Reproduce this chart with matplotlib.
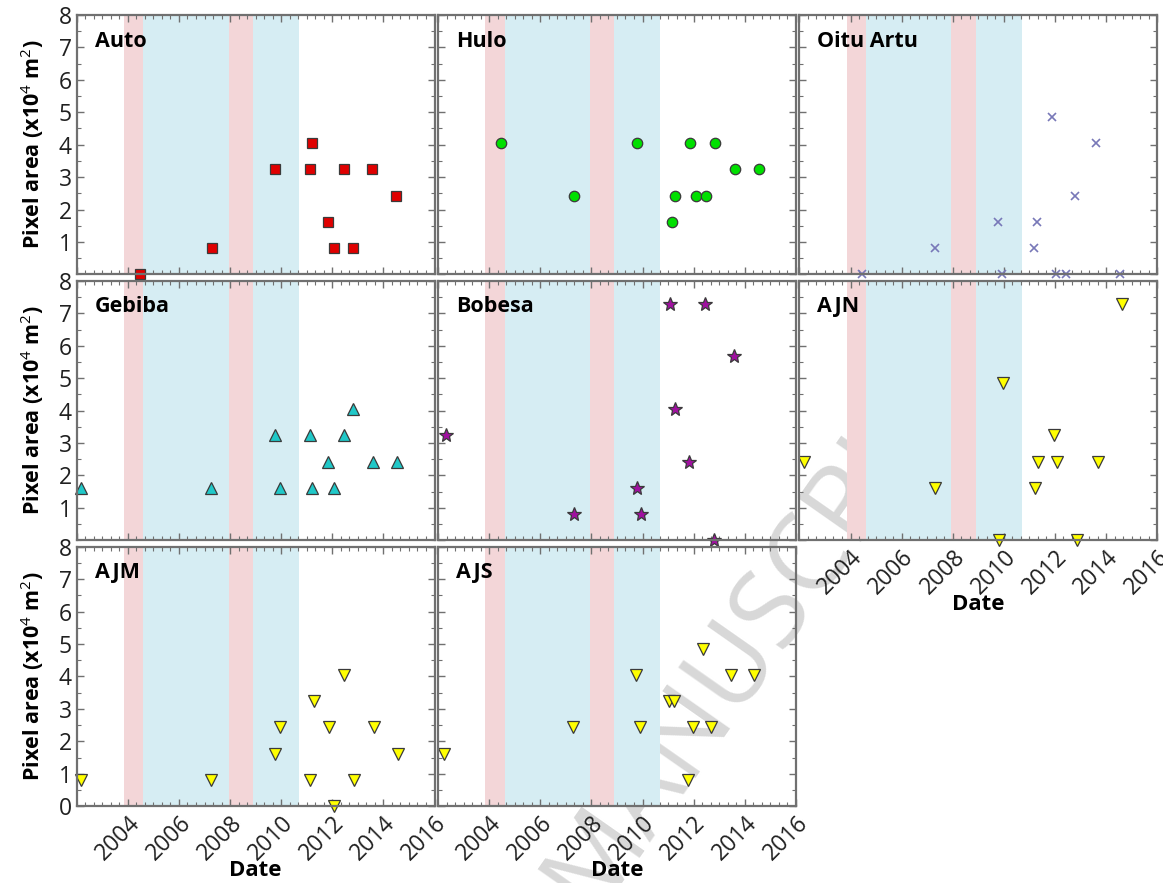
import matplotlib
matplotlib.use("Agg")
import matplotlib.pyplot as plt
from matplotlib.ticker import MultipleLocator

plt.rcParams["font.family"] = ["Open Sans", "DejaVu Sans"]
plt.rcParams["mathtext.fontset"] = "custom"
plt.rcParams["mathtext.rm"] = "Open Sans"
plt.rcParams["mathtext.bf"] = "Open Sans:bold"

# 数据 (年份, 面积 x10^4 m2)
auto_x = [2004.46, 2007.29, 2009.75, 2011.12, 2011.22, 2011.84, 2012.05, 2012.46, 2012.80, 2013.57, 2014.51]
auto_y = [0.00, 0.81, 3.24, 3.24, 4.05, 1.62, 0.81, 3.24, 0.81, 3.24, 2.43]

hulo_x = [2004.48, 2007.31, 2009.79, 2011.15, 2011.29, 2011.85, 2012.08, 2012.49, 2012.83, 2013.60, 2014.56]
hulo_y = [4.05, 2.43, 4.05, 1.62, 2.43, 4.05, 2.43, 2.43, 4.05, 3.24, 3.24]

oitu_x = [2004.46, 2007.32, 2009.79, 2009.94, 2011.17, 2011.28, 2011.87, 2012.05, 2012.45, 2012.80, 2013.60, 2014.54]
oitu_y = [0.00, 0.81, 1.62, 0.00, 0.81, 1.62, 4.86, 0.00, 0.00, 2.43, 4.05, 0.00]

gebiba_x = [2002.16, 2007.27, 2009.76, 2009.94, 2011.12, 2011.22, 2011.84, 2012.07, 2012.46, 2012.80, 2013.60, 2014.52]
gebiba_y = [1.62, 1.62, 3.24, 1.62, 3.24, 1.62, 2.43, 1.62, 3.24, 4.05, 2.43, 2.43]

bobesa_x = [2002.29, 2007.31, 2009.77, 2009.95, 2011.09, 2011.29, 2011.83, 2012.44, 2012.79, 2013.57]
bobesa_y = [3.24, 0.81, 1.62, 0.81, 7.29, 4.05, 2.43, 7.29, 0.00, 5.67]

ajn_x = [2002.19, 2007.32, 2009.80, 2009.98, 2011.20, 2011.34, 2011.95, 2012.08, 2012.86, 2013.69, 2014.62]
ajn_y = [2.43, 1.62, 0.00, 4.86, 1.62, 2.43, 3.24, 2.43, 0.00, 2.43, 7.29]

ajm_x = [2002.16, 2007.27, 2009.75, 2009.97, 2011.12, 2011.30, 2011.88, 2012.05, 2012.46, 2012.83, 2013.64, 2014.59]
ajm_y = [0.81, 0.81, 1.62, 2.43, 0.81, 3.24, 2.43, 0.00, 4.05, 0.81, 2.43, 1.62]

ajs_x = [2002.23, 2007.28, 2009.73, 2009.89, 2011.02, 2011.22, 2011.76, 2011.96, 2012.36, 2012.69, 2013.46, 2014.37]
ajs_y = [1.62, 2.43, 4.05, 2.43, 3.24, 3.24, 0.81, 2.43, 4.86, 2.43, 4.05, 4.05]

# 背景时段
pink_spans = [(2003.85, 2004.60), (2007.95, 2008.90)]
blue_spans = [(2004.60, 2007.95), (2008.90, 2010.70)]

sites = [
    ("Auto", auto_x, auto_y, "s", "#e00000", 7.5),
    ("Hulo", hulo_x, hulo_y, "o", "#00e000", 7.5),
    ("Oitu Artu", oitu_x, oitu_y, "x", "#7878b8", 6),
    ("Gebiba", gebiba_x, gebiba_y, "^", "#20c8c8", 8.5),
    ("Bobesa", bobesa_x, bobesa_y, "*", "#a010a0", 10.5),
    ("AJN", ajn_x, ajn_y, "v", "#ffff00", 8.5),
    ("AJM", ajm_x, ajm_y, "v", "#ffff00", 8.5),
    ("AJS", ajs_x, ajs_y, "v", "#ffff00", 8.5),
]

fig, axes = plt.subplots(3, 3, figsize=(11.63, 8.83), dpi=100,
                         gridspec_kw=dict(left=0.066, right=0.995, top=0.983, bottom=0.087,
                                          wspace=0.01, hspace=0.025))

# 水印
fig.text(0.508, -0.035, "MANUSCRIPT", fontsize=78, color="#d8d8d8", rotation=55,
         rotation_mode="anchor", ha="left", va="baseline", zorder=-5)

ylabel = r"Pixel area (x10$^4$ m$^2$)"

for i, ax in enumerate(axes.flat):
    row, col = divmod(i, 3)
    if i == 8:
        ax.set_visible(False)
        continue
    name, xs, ys, mk, color, ms = sites[i]
    ax.set_facecolor("none")
    for a, b in pink_spans:
        ax.axvspan(a, b, color="#f3d6d8", lw=0, zorder=1)
    for a, b in blue_spans:
        ax.axvspan(a, b, color="#d6edf3", lw=0, zorder=1)

    if mk == "x":
        ax.plot(xs, ys, linestyle="none", marker=mk, color=color, markersize=ms,
                markeredgewidth=1.2, clip_on=False, zorder=5)
    else:
        ax.plot(xs, ys, linestyle="none", marker=mk, markerfacecolor=color,
                markeredgecolor="#3a3a3a", markeredgewidth=0.9, markersize=ms,
                clip_on=False, zorder=5)

    ax.set_xlim(2002, 2016)
    ax.set_ylim(0, 8)
    ax.xaxis.set_major_locator(MultipleLocator(2))
    ax.xaxis.set_minor_locator(MultipleLocator(1 / 3))
    ax.yaxis.set_major_locator(MultipleLocator(1))
    ax.yaxis.set_minor_locator(MultipleLocator(0.5))
    ax.tick_params(which="both", direction="in", top=True, right=True, colors="#707070",
                   labelcolor="#202020", labelsize=16.5)
    ax.tick_params(which="major", length=5, width=1.0)
    ax.tick_params(which="minor", length=3, width=0.8)
    for sp in ax.spines.values():
        sp.set_color("#707070")
        sp.set_linewidth(1.6)
        sp.set_zorder(6)

    ax.text(0.05, 0.94, name, transform=ax.transAxes, fontsize=15.5, fontweight="bold",
            ha="left", va="top", zorder=7)

    if col == 0:
        if row == 2:
            ax.set_yticks(range(0, 9))
        else:
            ax.set_yticks(range(1, 9))
        ax.set_ylabel(ylabel, fontsize=15.5, fontweight="bold", labelpad=9)
    else:
        ax.tick_params(labelleft=False)

    if row == 2 or (row == 1 and col == 2):
        ax.set_xticks(range(2004, 2017, 2))
        for lb in ax.get_xticklabels():
            lb.set_rotation(45)
            lb.set_ha("right")
            lb.set_rotation_mode("anchor")
        ax.set_xlabel("Date", fontsize=16, fontweight="bold", labelpad=-4)
    else:
        ax.tick_params(labelbottom=False)

plt.savefig("out.png", dpi=100)
